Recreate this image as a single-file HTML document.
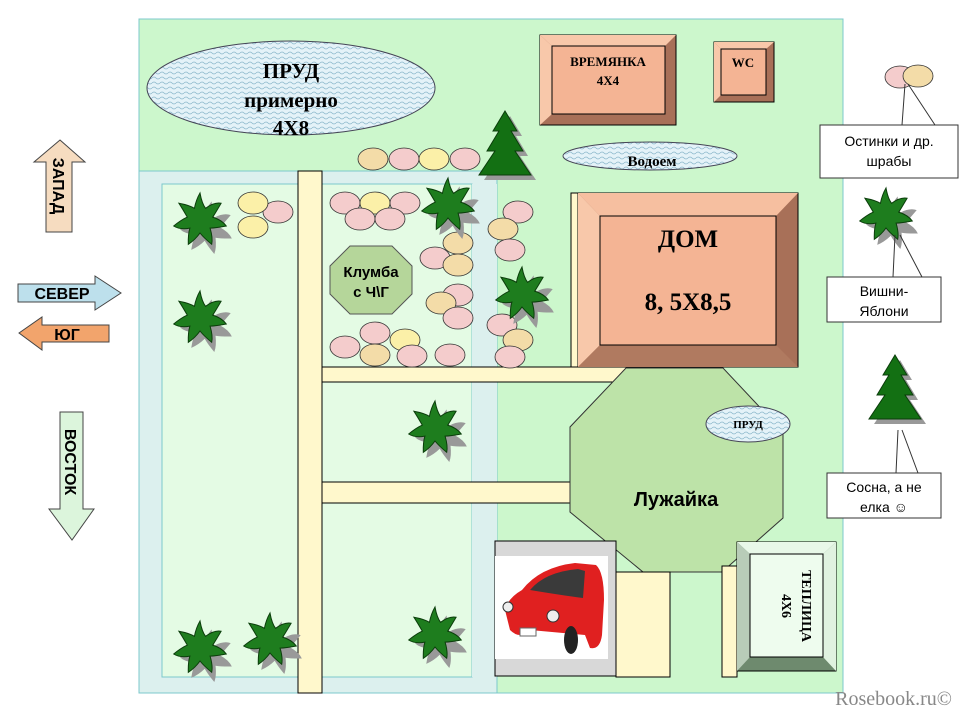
<!DOCTYPE html>
<html><head><meta charset="utf-8"><style>
html,body{margin:0;padding:0;background:#fff;width:960px;height:720px;overflow:hidden}
svg text{font-family:"Liberation Sans",sans-serif}
.sf{font-family:"Liberation Serif",serif !important;font-weight:bold}
</style></head><body>
<svg width="960" height="720" viewBox="0 0 960 720" xmlns="http://www.w3.org/2000/svg">
<defs>
<pattern id="wave" width="8" height="5" patternUnits="userSpaceOnUse">
<rect width="8" height="5" fill="#e4f2f8"/>
<path d="M0 3 Q2 1 4 3 T8 3" fill="none" stroke="#8cb8cc" stroke-width="0.8"/>
</pattern>
<path id="palm" d="M0,-27 Q2,-16 5.6,-11.7 Q14,-18 21.1,-16.8 Q16,-8 12.7,-2.9 Q22,0 26.3,6 Q16,8 10.1,8.1 Q13,18 11.7,24.3 Q4,18 0,13 Q-5,20 -11.7,24.3 Q-12,14 -10.1,8.1 Q-20,10 -26.3,6 Q-19,0 -12.7,-2.9 Q-18,-12 -21.1,-16.8 Q-11,-15 -5.6,-11.7 Q-4,-20 0,-27 Z"/>
<path id="fir" d="M0,0 L12,20 L6,20 L18,40 L10,40 L26,64 L-26,64 L-10,40 L-18,40 L-6,20 L-12,20 Z"/>
<g id="palmg"><use href="#palm" transform="translate(7,8) rotate(10)" fill="#999"/><use href="#palm" fill="#1e7d1e" stroke="#0b3d0b" stroke-width="1"/></g>
<g id="firg"><use href="#fir" transform="translate(5,5)" fill="#999"/><use href="#fir" fill="#137013" stroke="#0b3d0b" stroke-width="1"/></g>
</defs>

<rect x="139" y="19" width="704" height="674" fill="#ccf7cc" stroke="#7cc8cc"/>
<rect x="139" y="171" width="358" height="522" fill="#dcf0ee" stroke="#7cc8cc"/>
<rect x="162" y="184" width="310" height="493" fill="#e4fbe4" stroke="#7cc8cc"/>
<rect x="472" y="184" width="25" height="493" fill="#dcf0ee"/>
<rect x="322" y="367" width="310" height="15" fill="#fff8cc" stroke="#000"/>
<rect x="322" y="482" width="252" height="21" fill="#fff8cc" stroke="#000"/>
<rect x="298" y="171" width="24" height="522" fill="#fff8cc" stroke="#000"/>
<rect x="571" y="193" width="10" height="174" fill="#fff8cc" stroke="#000"/>

<ellipse cx="291" cy="88" rx="144" ry="47" fill="url(#wave)" stroke="#445"/>
<text class="sf" x="291" y="78" font-size="21" text-anchor="middle">ПРУД</text>
<text class="sf" x="291" y="107" font-size="21" text-anchor="middle">примерно</text>
<text class="sf" x="291" y="135" font-size="21" text-anchor="middle">4Х8</text>

<rect x="540" y="35" width="136" height="90" fill="#a87058" stroke="#000"/>
<polygon points="540,35 676,35 665,46 552,46" fill="#f8c8aa"/>
<polygon points="540,35 552,46 552,114 540,125" fill="#f8c8aa"/>
<rect x="552" y="46" width="113" height="68" fill="#f4b494" stroke="#000"/>
<text class="sf" x="608" y="66" font-size="13" text-anchor="middle">ВРЕМЯНКА</text>
<text class="sf" x="608" y="85" font-size="13" text-anchor="middle">4Х4</text>
<rect x="714" y="42" width="60" height="60" fill="#a87058" stroke="#000"/>
<polygon points="714,42 774,42 766,49 721,49" fill="#f8c8aa"/>
<polygon points="714,42 721,49 721,95 714,102" fill="#f8c8aa"/>
<rect x="721" y="49" width="45" height="46" fill="#f4b494" stroke="#000"/>
<text class="sf" x="743" y="67" font-size="13" text-anchor="middle">WC</text>

<ellipse cx="650" cy="156" rx="87" ry="14" fill="url(#wave)" stroke="#445"/>
<text class="sf" x="652" y="166" font-size="15" text-anchor="middle">Водоем</text>

<rect x="578" y="193" width="220" height="174" fill="#a87058" stroke="#000"/>
<polygon points="578,193 798,193 776,216 600,216" fill="#f6bfa0"/>
<polygon points="578,193 600,216 600,345 578,367" fill="#f8c8aa"/>
<polygon points="578,367 600,345 776,345 798,367" fill="#b07a60"/>
<rect x="600" y="216" width="176" height="129" fill="#f4b494" stroke="#000"/>
<text class="sf" x="688" y="247" font-size="25" text-anchor="middle">ДОМ</text>
<text class="sf" x="688" y="310" font-size="25" text-anchor="middle">8, 5Х8,5</text>

<polygon points="626,368 723,368 783,432 783,518 722,572 643,572 570,512 570,427" fill="#bde3a8" stroke="#333"/>
<text x="676" y="506" font-size="20" font-weight="bold" text-anchor="middle">Лужайка</text>
<ellipse cx="748" cy="424" rx="42" ry="18" fill="url(#wave)" stroke="#445"/>
<text class="sf" x="748" y="428" font-size="11" text-anchor="middle">ПРУД</text>

<rect x="616" y="572" width="54" height="105" fill="#fff8cc" stroke="#000"/>
<rect x="722" y="566" width="15" height="111" fill="#fff8cc" stroke="#000"/>
<rect x="495" y="541" width="121" height="135" fill="#d8d8d8" stroke="#000"/>
<rect x="495" y="556" width="113" height="103" fill="#fff"/>
<path d="M522,590 Q540,567 575,563 L596,565 Q604,572 604,600 L602,635 Q600,650 590,648 L585,635 L530,630 Q520,640 510,630 L505,610 Q508,598 522,590 Z" fill="#e02020"/>
<path d="M530,590 Q545,572 578,569 L585,571 L583,598 Q560,595 530,590 Z" fill="#3a3a3a"/>
<circle cx="508" cy="607" r="5" fill="#eee" stroke="#333"/>
<circle cx="553" cy="616" r="6" fill="#eee" stroke="#333"/>
<rect x="520" y="628" width="16" height="8" fill="#fff" stroke="#666"/>
<ellipse cx="571" cy="640" rx="7" ry="14" fill="#222"/>

<rect x="737" y="542" width="99" height="129" fill="#6e8a6e" stroke="#000"/>
<polygon points="737,542 836,542 823,554 750,554" fill="#e8f8e8"/>
<polygon points="737,542 750,554 750,657 737,671" fill="#b8ccb8"/>
<polygon points="823,554 836,542 836,671 823,657" fill="#e0f2e0"/>
<rect x="750" y="554" width="73" height="103" fill="#eefcee" stroke="#000"/>
<text class="sf" transform="translate(802,606) rotate(90)" font-size="14" text-anchor="middle">ТЕПЛИЦА</text>
<text class="sf" transform="translate(782,606) rotate(90)" font-size="14" text-anchor="middle">4Х6</text>

<g stroke="#333" stroke-width="0.8">
<ellipse cx="373" cy="159" rx="15" ry="11" fill="#f3dca8"/>
<ellipse cx="404" cy="159" rx="15" ry="11" fill="#f4cccc"/>
<ellipse cx="434" cy="159" rx="15" ry="11" fill="#fbf0a8"/>
<ellipse cx="465" cy="159" rx="15" ry="11" fill="#f4cccc"/>
<ellipse cx="278" cy="212" rx="15" ry="11" fill="#f4cccc"/>
<ellipse cx="253" cy="203" rx="15" ry="11" fill="#fbf0a8"/>
<ellipse cx="253" cy="227" rx="15" ry="11" fill="#fbf0a8"/>
<ellipse cx="345" cy="203" rx="15" ry="11" fill="#f4cccc"/>
<ellipse cx="375" cy="203" rx="15" ry="11" fill="#fbf0a8"/>
<ellipse cx="405" cy="203" rx="15" ry="11" fill="#f4cccc"/>
<ellipse cx="360" cy="219" rx="15" ry="11" fill="#f4cccc"/>
<ellipse cx="390" cy="219" rx="15" ry="11" fill="#f4cccc"/>
<ellipse cx="458" cy="243" rx="15" ry="11" fill="#f3dca8"/>
<ellipse cx="435" cy="258" rx="15" ry="11" fill="#f4cccc"/>
<ellipse cx="458" cy="265" rx="15" ry="11" fill="#f3dca8"/>
<ellipse cx="458" cy="295" rx="15" ry="11" fill="#f4cccc"/>
<ellipse cx="441" cy="303" rx="15" ry="11" fill="#f3dca8"/>
<ellipse cx="458" cy="318" rx="15" ry="11" fill="#f4cccc"/>
<ellipse cx="518" cy="212" rx="15" ry="11" fill="#f4cccc"/>
<ellipse cx="503" cy="229" rx="15" ry="11" fill="#f3dca8"/>
<ellipse cx="510" cy="250" rx="15" ry="11" fill="#f4cccc"/>
<ellipse cx="502" cy="325" rx="15" ry="11" fill="#f4cccc"/>
<ellipse cx="518" cy="340" rx="15" ry="11" fill="#f3dca8"/>
<ellipse cx="510" cy="357" rx="15" ry="11" fill="#f4cccc"/>
<ellipse cx="375" cy="333" rx="15" ry="11" fill="#f4cccc"/>
<ellipse cx="345" cy="347" rx="15" ry="11" fill="#f4cccc"/>
<ellipse cx="405" cy="340" rx="15" ry="11" fill="#fbf0a8"/>
<ellipse cx="375" cy="355" rx="15" ry="11" fill="#f3dca8"/>
<ellipse cx="412" cy="356" rx="15" ry="11" fill="#f4cccc"/>
<ellipse cx="450" cy="355" rx="15" ry="11" fill="#f4cccc"/>
<ellipse cx="900" cy="77" rx="15" ry="11" fill="#f4cccc"/>
<ellipse cx="918" cy="76" rx="15" ry="11" fill="#f3dca8"/>
</g>

<polygon points="350,246 392,246 412,266 412,294 392,314 350,314 330,294 330,266" fill="#b5d69a" stroke="#555"/>
<text x="371" y="277" font-size="15" font-weight="bold" text-anchor="middle">Клумба</text>
<text x="371" y="297" font-size="15" font-weight="bold" text-anchor="middle">с Ч\Г</text>

<use href="#palmg" x="200" y="220"/>
<use href="#palmg" x="200" y="318"/>
<use href="#palmg" x="448" y="205"/>
<use href="#palmg" x="522" y="294"/>
<use href="#palmg" x="435" y="428"/>
<use href="#palmg" x="435" y="634"/>
<use href="#palmg" x="200" y="648"/>
<use href="#palmg" x="270" y="640"/>
<use href="#palmg" x="886" y="215"/>
<use href="#firg" x="505" y="111"/>
<use href="#firg" x="895" y="355"/>

<g stroke="#333" fill="none">
<path d="M905,84 L902,125 M908,84 L935,125"/>
<path d="M895,235 L893,277 M900,235 L922,277"/>
<path d="M898,430 L896,473 M902,430 L918,473"/>
</g>
<g fill="#fff" stroke="#333">
<rect x="820" y="125" width="138" height="53"/>
<rect x="827" y="277" width="114" height="45"/>
<rect x="827" y="473" width="114" height="45"/>
</g>
<g font-size="14" text-anchor="middle">
<text x="889" y="146">Остинки и др.</text>
<text x="889" y="166">шрабы</text>
<text x="884" y="296">Вишни-</text>
<text x="884" y="316">Яблони</text>
<text x="884" y="492">Сосна, а не</text>
<text x="884" y="512">елка ☺</text>
</g>

<polygon points="60,140 85,162 72,162 72,232 46,232 46,162 34,162" fill="#f6dcc0" stroke="#444"/>
<text transform="translate(53,186) rotate(90)" font-size="16" font-weight="bold" text-anchor="middle">ЗАПАД</text>
<polygon points="18,284 95,284 95,276 121,293 95,310 95,302 18,302" fill="#bde0ec" stroke="#444"/>
<text x="62" y="299" font-size="16" font-weight="bold" text-anchor="middle">СЕВЕР</text>
<polygon points="19,333 42,317 42,325 109,325 109,342 42,342 42,350" fill="#f2a46c" stroke="#444"/>
<text x="67" y="340" font-size="16" font-weight="bold" text-anchor="middle">ЮГ</text>
<polygon points="60,412 83,412 83,509 94,509 72,540 49,509 60,509" fill="#dcf5dc" stroke="#444"/>
<text transform="translate(65,462) rotate(90)" font-size="16" font-weight="bold" text-anchor="middle">ВОСТОК</text>

<text class="sf" x="952" y="705" font-size="20" fill="#888" text-anchor="end" style="font-weight:normal">Rosebook.ru©</text>
</svg>
</body></html>
